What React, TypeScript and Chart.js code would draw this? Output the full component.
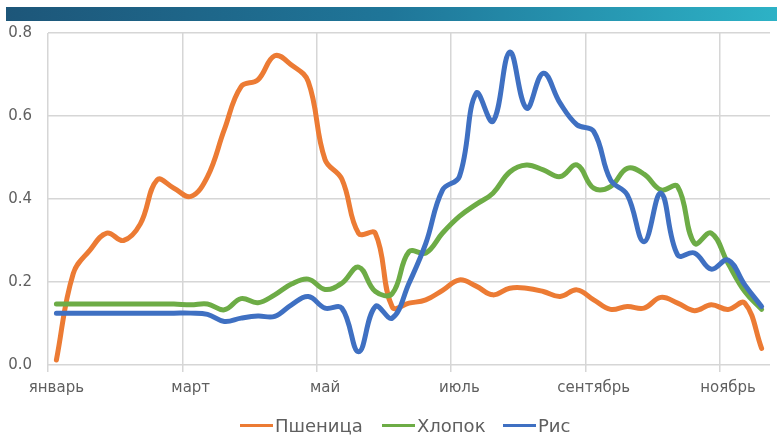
import React, { useEffect, useRef } from "react";
import { Chart, registerables } from "chart.js";

Chart.register(...registerables);

// 43 weekly categories; a month label every 8th category
const categories: string[] = Array.from({ length: 43 }, (_, i) => `неделя ${i + 1}`);
const monthTicks = ["январь", "март", "май", "июль", "сентябрь", "ноябрь"];
const yTicks = [0, 0.2, 0.4, 0.6, 0.8];

const wheat = [
  0.012, 0.22, 0.277, 0.318, 0.3, 0.34, 0.446, 0.426, 0.406, 0.454,
  0.567, 0.671, 0.687, 0.745, 0.723, 0.683, 0.495, 0.448, 0.317, 0.317,
  0.14, 0.149, 0.157, 0.18, 0.205, 0.19, 0.169, 0.185, 0.185, 0.177,
  0.165, 0.181, 0.157, 0.134, 0.141, 0.137, 0.163, 0.149, 0.131, 0.145,
  0.134, 0.149, 0.04,
];
const cotton = [
  0.147, 0.147, 0.147, 0.147, 0.147, 0.147, 0.147, 0.147, 0.145, 0.147,
  0.133, 0.16, 0.15, 0.169, 0.195, 0.207, 0.182, 0.197, 0.236, 0.177,
  0.172, 0.273, 0.27, 0.318, 0.358, 0.387, 0.414, 0.465, 0.482, 0.47,
  0.454, 0.482, 0.426, 0.43, 0.474, 0.46, 0.422, 0.43, 0.293, 0.318,
  0.245, 0.177, 0.134,
];
const rice = [
  0.125, 0.125, 0.125, 0.125, 0.125, 0.125, 0.125, 0.125, 0.125, 0.122,
  0.105, 0.113, 0.118, 0.117, 0.145, 0.165, 0.137, 0.137, 0.032, 0.141,
  0.113, 0.197, 0.293, 0.422, 0.454, 0.655, 0.587, 0.754, 0.619, 0.703,
  0.631, 0.579, 0.563, 0.446, 0.41, 0.297, 0.414, 0.265, 0.27, 0.231,
  0.253, 0.193, 0.141,
];

const seriesNames = ["Пшеница", "Хлопок", "Рис"];
const seriesColors = ["#ec7b34", "#6dac46", "#3f70c2"];

const FONT = "'DejaVu Sans', 'Liberation Sans', sans-serif";
const TEXT = "#5f5f5f";
const GRID = "#d6d6d6";

export default function App() {
  const ref = useRef<HTMLCanvasElement | null>(null);

  useEffect(() => {
    if (!ref.current) return;
    const values = [wheat, cotton, rice];
    const chart = new Chart(ref.current, {
      type: "line",
      data: {
        labels: categories,
        datasets: values.map((v, k) => ({
          label: seriesNames[k],
          data: v,
          borderColor: seriesColors[k],
          backgroundColor: seriesColors[k],
          borderWidth: 5,
          pointRadius: 0,
          tension: 0.4,
          fill: false,
          order: 3 - k,
          borderCapStyle: "round" as const,
          borderJoinStyle: "round" as const,
        })),
      },
      options: {
        animation: false,
        responsive: false,
        devicePixelRatio: 1,
        layout: { padding: { left: 0, right: 7, top: 33, bottom: 32 } },
        plugins: { legend: { display: false }, tooltip: { enabled: false } },
        scales: {
          x: {
            type: "category",
            offset: true,
            border: { display: false },
            grid: {
              offset: true,
              lineWidth: 1.5,
              tickLength: 7,
              color: (ctx: any) => (ctx.index % 8 === 0 ? GRID : "rgba(0,0,0,0)"),
            },
            ticks: {
              autoSkip: false,
              maxRotation: 0,
              minRotation: 0,
              padding: 7,
              color: TEXT,
              font: { family: FONT, size: 15 },
              callback: (_v: any, i: number) => (i % 8 === 0 ? monthTicks[i / 8] ?? "" : ""),
            },
            afterFit: (s: any) => {
              s.height = 40;
            },
          },
          y: {
            min: yTicks[0],
            max: yTicks[yTicks.length - 1],
            border: { display: false },
            grid: { color: GRID, lineWidth: 1.5, drawTicks: false },
            ticks: {
              stepSize: 0.2,
              padding: 16,
              color: TEXT,
              font: { family: FONT, size: 15 },
              callback: (v: any) => Number(v).toFixed(1),
            },
            afterFit: (s: any) => {
              s.width = 48;
            },
          },
        },
      },
    });
    return () => chart.destroy();
  }, []);

  const legendStarts = [240, 382, 503];

  return (
    <div style={{ position: "fixed", left: 0, top: 0, width: 777, height: 437, background: "#fff", overflow: "hidden" }}>
      <div
        style={{
          position: "absolute",
          left: 6,
          top: 7,
          width: 771,
          height: 14,
          background: "linear-gradient(90deg, #1d5679 0%, #1f7699 50%, #2db2c6 100%)",
        }}
      />
      <canvas ref={ref} width={777} height={437} style={{ position: "absolute", left: 0, top: 0, width: 777, height: 437 }} />
      {seriesNames.map((n, k) => (
        <div
          key={n}
          style={{
            position: "absolute",
            left: legendStarts[k],
            top: 414,
            height: 22,
            display: "flex",
            alignItems: "center",
            fontFamily: FONT,
            fontSize: 18,
            color: TEXT,
            whiteSpace: "nowrap",
          }}
        >
          <span style={{ display: "inline-block", width: 33, height: 3, background: seriesColors[k], marginRight: 2 }} />
          <span>{n}</span>
        </div>
      ))}
    </div>
  );
}
